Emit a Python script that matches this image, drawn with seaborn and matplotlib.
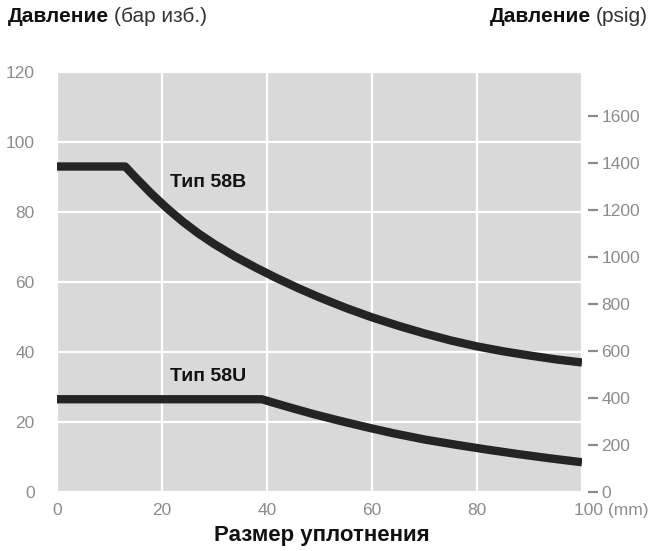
import matplotlib
matplotlib.use("Agg")
import matplotlib.pyplot as plt
import matplotlib.transforms as mtransforms
import seaborn as sns
import pandas as pd

# ---- data (bar g vs seal size mm) ----
x_58b = [0, 13, 15, 18, 21, 24, 27, 30, 34, 38, 42, 46, 50, 55, 60, 65, 70, 75, 80, 85, 90, 95, 100]
y_58b = [93, 93, 89.8, 85.2, 81.0, 77.2, 73.8, 70.8, 67.2, 64.0, 61.0, 58.2, 55.6, 52.6,
         49.9, 47.5, 45.3, 43.3, 41.6, 40.2, 39.0, 37.9, 37.0]
x_58u = [0, 39, 44, 49, 54, 59, 64, 70, 76, 82, 88, 94, 100]
y_58u = [26.5, 26.5, 24.3, 22.2, 20.3, 18.5, 16.8, 15.0, 13.5, 12.1, 10.8, 9.6, 8.5]
series_names = ["Тип 58B", "Тип 58U"]
x_ticks = [0, 20, 40, 60, 80, 100]
x_tick_labels = ["0", "20", "40", "60", "80", "100 (mm)"]
y_ticks = [0, 20, 40, 60, 80, 100, 120]
psig_ticks = [0, 200, 400, 600, 800, 1000, 1200, 1400, 1600]
psig_per_bar = 14.9

sns.set_theme(style="white")
plt.rcParams["font.family"] = ["Liberation Sans", "DejaVu Sans"]

df = pd.concat([
    pd.DataFrame({"mm": x_58b, "bar": y_58b, "type": series_names[0]}),
    pd.DataFrame({"mm": x_58u, "bar": y_58u, "type": series_names[1]}),
])

fig = plt.figure(figsize=(6.56, 5.51), dpi=100)
ax = fig.add_axes([57/656, (551-492)/551, (582-57)/656, (492-72)/551])
ax.set_facecolor("#d9d9d9")

sns.lineplot(data=df, x="mm", y="bar", units="type", estimator=None,
             color="#242424", linewidth=6, ax=ax, sort=False,
             solid_capstyle="butt", solid_joinstyle="round")

ax.set_xlim(0, 100)
ax.set_ylim(0, 120)
ax.set_xticks(x_ticks)
ax.set_xticklabels(x_tick_labels)
ax.set_yticks(y_ticks)
for s in ax.spines.values():
    s.set_visible(False)
ax.grid(True, color="white", linewidth=1.6)
ax.set_axisbelow(True)
ax.tick_params(axis="both", length=0, labelsize=12.5, colors="#8c8c8c")
ax.tick_params(axis="x", pad=8)
ax.tick_params(axis="y", pad=16)
ax.set_xlabel("")
ax.set_ylabel("")
if ax.get_legend():
    ax.get_legend().remove()

# shift last x label
last = ax.get_xticklabels()[-1]
last.set_horizontalalignment("left")
last.set_transform(last.get_transform() + mtransforms.ScaledTranslation(-8/100, 0, fig.dpi_scale_trans))

# right axis in psig
ax2 = ax.twinx()
ax2.set_ylim(0, 120 * psig_per_bar)
ax2.set_yticks(psig_ticks)
for s in ax2.spines.values():
    s.set_visible(False)
ax2.spines["right"].set_position(("outward", 4))
ax2.tick_params(axis="y", direction="out", length=7, width=1.6, colors="#8c8c8c",
                labelsize=12.5, pad=3)
ax2.grid(False)

# series labels
ax.text(21.5, 88.5, series_names[0], fontsize=14, fontweight="bold", color="#111111",
        va="center", ha="left")
ax.text(21.5, 33, series_names[1], fontsize=14, fontweight="bold", color="#111111",
        va="center", ha="left")

# headers (bold word + regular unit)
ytop = 1 - 17/551
renderer = fig.canvas.get_renderer()
t1 = fig.text(8/656, ytop, "Давление", fontsize=15, fontweight="bold",
              color="#111111", va="center", ha="left")
bb = t1.get_window_extent(renderer)
fig.text((bb.x1 + 5)/656, ytop, "(бар изб.)", fontsize=15, color="#333333",
         va="center", ha="left")
t2 = fig.text(648/656, ytop, "(psig)", fontsize=15, color="#333333",
              va="center", ha="right")
bb2 = t2.get_window_extent(renderer)
fig.text((bb2.x0 - 5)/656, ytop, "Давление", fontsize=15, fontweight="bold",
         color="#111111", va="center", ha="right")

fig.text(322/656, 1 - 536/551, "Размер уплотнения", fontsize=16, fontweight="bold",
         color="#111111", va="center", ha="center")

fig.savefig("out.png", dpi=100, facecolor="white")
